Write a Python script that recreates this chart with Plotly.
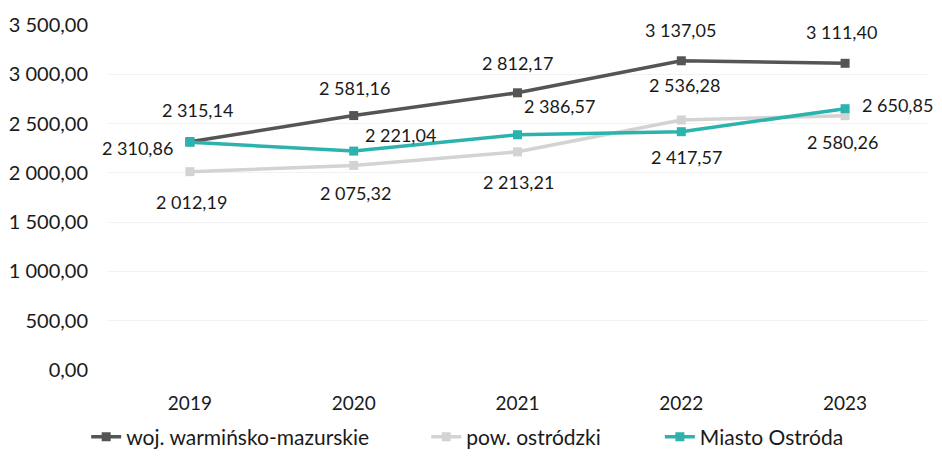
import plotly.graph_objects as go

years = ["2019", "2020", "2021", "2022", "2023"]
woj = [2315.14, 2581.16, 2812.17, 3137.05, 3111.40]
pow_ = [2012.19, 2075.32, 2213.21, 2536.28, 2580.26]
miasto = [2310.86, 2221.04, 2386.57, 2417.57, 2650.85]
names = ["woj. warmińsko-mazurskie", "pow. ostródzki", "Miasto Ostróda"]
colors = ["#555555", "#d3d3d3", "#2cb3ae"]
y_ticks = [0, 500, 1000, 1500, 2000, 2500, 3000, 3500]

# label offsets in pixels (dx, dy) per point
woj_off = [(8, -32), (1, -28), (0, -30), (-1, -31), (-4, -31)]
pow_off = [(2, 30), (2, 28), (1, 30), (3, -35), (-3, 26)]
mia_off = [(-52, 6), (47, -16), (42, -29), (5, 25), (52, -4)]

FONT = "Lato"
TXT = "#1a1a1a"
legend_ids = ["legend", "legend2", "legend3"]
legend_x = [0.083, 0.444, 0.692]

fig = go.Figure()
for vals, name, col, lid in zip([woj, pow_, miasto], names, colors, legend_ids):
    fig.add_trace(go.Scatter(
        x=years, y=vals, name=name, mode="lines+markers", legend=lid,
        line=dict(color=col, width=3.5),
        marker=dict(symbol="square", size=9, color=col),
    ))

def fmt(v):
    s = f"{v:,.2f}"
    return s.replace(",", " ").replace(".", ",")

annotations = []
for vals, offs in [(woj, woj_off), (pow_, pow_off), (miasto, mia_off)]:
    for i, (v, (dx, dy)) in enumerate(zip(vals, offs)):
        annotations.append(dict(
            x=i, y=v, xref="x", yref="y", text=fmt(v), showarrow=False,
            xshift=dx, yshift=-dy, font=dict(family=FONT, size=18, color=TXT),
        ))

legends = {}
for lid, lx in zip(legend_ids, legend_x):
    legends[lid] = dict(orientation="h", xref="container", yref="container",
                        x=lx, xanchor="left", y=0.061, yanchor="middle",
                        bgcolor="rgba(0,0,0,0)",
                        font=dict(family=FONT, size=21, color=TXT), itemwidth=30)

fig.update_layout(
    width=942, height=457,
    margin=dict(l=100, r=23, t=17, b=95, autoexpand=False),
    paper_bgcolor="white", plot_bgcolor="white",
    separators=", ",
    font=dict(family=FONT, size=20, color=TXT),
    showlegend=True,
    annotations=annotations,
    xaxis=dict(type="category", range=[-0.5, len(years) - 0.5], showgrid=False,
               showline=False, zeroline=False, ticks="", automargin=False,
               ticklabelstandoff=20, tickfont=dict(size=19)),
    yaxis=dict(range=[0, 3500], tickvals=y_ticks, tickformat=",.2f", automargin=False,
               showgrid=True, gridcolor="#f2f2f2", zeroline=False, showline=False,
               ticks="", ticklabelstandoff=19, tickfont=dict(size=20)),
    **legends,
)

fig.write_html("out.html")
